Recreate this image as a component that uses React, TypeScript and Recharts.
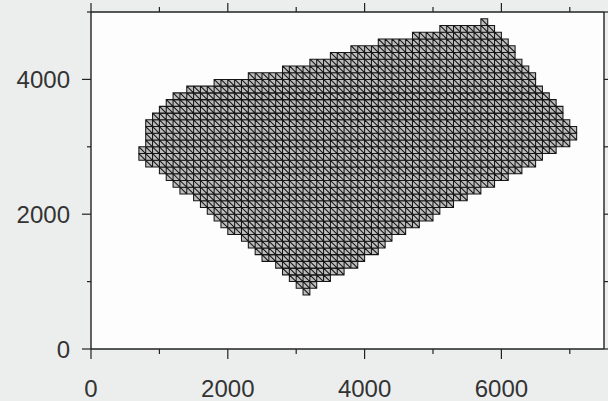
import React from 'react';
import { ScatterChart, Scatter, XAxis, YAxis, ReferenceArea, CartesianGrid } from 'recharts';

// Mesh rows: bottom y of each row (row height = cellSize), left and right x extents
const rowBottoms = [800, 900, 1000, 1100, 1200, 1300, 1400, 1500, 1600, 1700, 1800, 1900, 2000, 2100, 2200, 2300, 2400, 2500, 2600, 2700, 2800, 2900, 3000, 3100, 3200, 3300, 3400, 3500, 3600, 3700, 3800, 3900, 4000, 4100, 4200, 4300, 4400, 4500, 4600, 4700, 4800];
const rowLeft = [3100, 3000, 2900, 2800, 2700, 2500, 2400, 2300, 2200, 2000, 1900, 1800, 1700, 1600, 1500, 1300, 1200, 1100, 1000, 800, 700, 700, 800, 800, 800, 800, 900, 1000, 1100, 1200, 1400, 1800, 2300, 2800, 3200, 3500, 3800, 4200, 4700, 5100, 5700];
const rowRight = [3200, 3300, 3500, 3700, 3900, 4000, 4200, 4300, 4400, 4600, 4800, 5000, 5100, 5300, 5500, 5700, 5900, 6100, 6300, 6500, 6600, 6800, 7000, 7100, 7100, 7000, 6900, 6900, 6800, 6700, 6600, 6500, 6500, 6400, 6300, 6200, 6200, 6100, 6000, 5900, 5800];
const cellSize = 100;

const xTicks = [0, 1000, 2000, 3000, 4000, 5000, 6000, 7000];
const xLabels = [0, 2000, 4000, 6000];
const yTicks = [0, 1000, 2000, 3000, 4000, 5000];
const yLabels = [0, 2000, 4000];

const FONT = '"Liberation Sans", Arial, Helvetica, sans-serif';
const INK = '#222222';
const TXT = '#333333';

const MeshRow = (props: any) => {
  const { x, y, width, height, cells } = props;
  if (x == null || y == null || !width) return null;
  const cw = width / cells;
  let d = `M${x},${y}h${width}v${height}h${-width}Z`;
  for (let i = 1; i < cells; i++) d += `M${x + i * cw},${y}v${height}`;
  for (let i = 0; i < cells; i++) d += `M${x + i * cw},${y}l${cw},${height}`;
  return <path d={d} fill="#bdbdbd" stroke="#151515" strokeWidth={1.05} />;
};

const BottomTick = (props: any) => {
  const { x, y, payload } = props;
  const major = xLabels.includes(payload.value);
  return (
    <g>
      <line x1={x} y1={y} x2={x} y2={y + (major ? 10 : 5)} stroke={INK} strokeWidth={1.2} />
      {major && (
        <text x={x} y={y + 31} dy="0.71em" textAnchor="middle" fontFamily={FONT} fontSize={24} fill={TXT}>
          {payload.value}
        </text>
      )}
    </g>
  );
};

const TopTick = (props: any) => {
  const { x, y, payload } = props;
  const major = xLabels.includes(payload.value);
  return <line x1={x} y1={y} x2={x} y2={y - (major ? 9 : 5)} stroke={INK} strokeWidth={1.2} />;
};

const LeftTick = (props: any) => {
  const { x, y, payload } = props;
  const major = yLabels.includes(payload.value);
  return (
    <g>
      <line x1={x - (major ? 9 : 4)} y1={y} x2={x} y2={y} stroke={INK} strokeWidth={1.2} />
      {major && (
        <text x={x - 21} y={y} dy="0.36em" textAnchor="end" fontFamily={FONT} fontSize={24} fill={TXT}>
          {payload.value}
        </text>
      )}
    </g>
  );
};

const RightTick = (props: any) => {
  const { x, y } = props;
  return <line x1={x} y1={y} x2={x + 4} y2={y} stroke={INK} strokeWidth={1.2} />;
};

export default function App() {
  return (
    <div style={{ position: 'absolute', left: 0, top: 0, width: 608, height: 401, background: '#eceeee' }}>
      <ScatterChart width={608} height={401} margin={{ top: 0, right: 0, bottom: 0, left: 0 }}>
        <CartesianGrid horizontal={false} vertical={false} fill="#fdfdfd" />
        <XAxis
          xAxisId={0}
          type="number"
          dataKey="x"
          domain={[0, 7500]}
          ticks={xTicks}
          allowDataOverflow
          height={52}
          tickSize={0}
          tickMargin={0}
          tickLine={false}
          axisLine={{ stroke: INK, strokeWidth: 1.4 }}
          tick={<BottomTick />}
          interval={0}
        />
        <XAxis
          xAxisId="top"
          orientation="top"
          type="number"
          dataKey="x"
          domain={[0, 7500]}
          ticks={xTicks}
          allowDataOverflow
          height={12}
          tickSize={0}
          tickMargin={0}
          tickLine={false}
          axisLine={{ stroke: INK, strokeWidth: 1.4 }}
          tick={<TopTick />}
          interval={0}
        />
        <YAxis
          yAxisId={0}
          type="number"
          dataKey="y"
          domain={[0, 5000]}
          ticks={yTicks}
          allowDataOverflow
          width={91}
          tickSize={0}
          tickMargin={0}
          tickLine={false}
          axisLine={{ stroke: INK, strokeWidth: 1.4 }}
          tick={<LeftTick />}
          interval={0}
        />
        <YAxis
          yAxisId="right"
          orientation="right"
          type="number"
          dataKey="y"
          domain={[0, 5000]}
          ticks={yTicks}
          allowDataOverflow
          width={4}
          tickSize={0}
          tickMargin={0}
          tickLine={false}
          axisLine={{ stroke: INK, strokeWidth: 1.4 }}
          tick={<RightTick />}
          interval={0}
        />
        <Scatter data={[]} xAxisId={0} yAxisId={0} isAnimationActive={false} />
        {rowBottoms.map((yb, i) => {
          const cells = Math.round((rowRight[i] - rowLeft[i]) / cellSize);
          return (
            <ReferenceArea
              key={yb}
              xAxisId={0}
              yAxisId={0}
              x1={rowLeft[i]}
              x2={rowRight[i]}
              y1={yb}
              y2={yb + cellSize}
              ifOverflow="visible"
              shape={(p: any) => <MeshRow {...p} cells={cells} />}
            />
          );
        })}
      </ScatterChart>
    </div>
  );
}
